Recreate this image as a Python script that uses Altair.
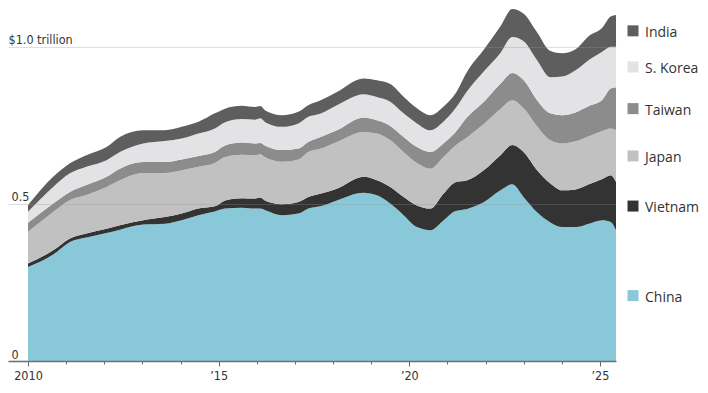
import altair as alt
import pandas as pd

# ---- data (trillions of dollars, decimal years) ----
years = [2010.00, 2010.66, 2011.10, 2011.53, 2012.06, 2012.41, 2013.02, 2013.59,
         2014.03, 2014.47, 2014.90, 2015.17, 2015.61, 2015.96, 2016.09, 2016.22,
         2016.66, 2017.09, 2017.35, 2017.66, 2018.10, 2018.80, 2019.15, 2019.50,
         2019.85, 2020.20, 2020.55, 2020.90, 2021.21, 2021.52, 2021.95, 2022.39,
         2022.70, 2023.00, 2023.35, 2023.70, 2024.01, 2024.36, 2024.71, 2025.06,
         2025.28, 2025.42]
china = [0.299, 0.339, 0.379, 0.393, 0.407, 0.418, 0.434, 0.437,
         0.448, 0.464, 0.476, 0.485, 0.488, 0.485, 0.485, 0.480,
         0.464, 0.469, 0.485, 0.492, 0.511, 0.535, 0.527, 0.501,
         0.464, 0.426, 0.416, 0.448, 0.477, 0.484, 0.505, 0.543,
         0.562, 0.521, 0.473, 0.441, 0.426, 0.426, 0.437, 0.448,
         0.442, 0.416]
vietnam = [0.011, 0.013, 0.011, 0.013, 0.014, 0.014, 0.014, 0.021,
           0.021, 0.021, 0.016, 0.026, 0.030, 0.032, 0.035, 0.030,
           0.035, 0.037, 0.037, 0.040, 0.037, 0.051, 0.048, 0.053,
           0.058, 0.069, 0.069, 0.085, 0.092, 0.091, 0.102, 0.112,
           0.125, 0.143, 0.134, 0.124, 0.117, 0.120, 0.125, 0.131,
           0.149, 0.154]
japan = [0.101, 0.122, 0.122, 0.122, 0.133, 0.143, 0.150, 0.140,
         0.138, 0.133, 0.138, 0.138, 0.138, 0.138, 0.138, 0.138,
         0.135, 0.135, 0.143, 0.143, 0.149, 0.143, 0.149, 0.149,
         0.143, 0.135, 0.127, 0.117, 0.117, 0.137, 0.147, 0.147,
         0.143, 0.140, 0.140, 0.137, 0.149, 0.153, 0.153, 0.153,
         0.149, 0.165]
taiwan = [0.029, 0.027, 0.026, 0.032, 0.032, 0.037, 0.035, 0.035,
          0.034, 0.034, 0.035, 0.037, 0.039, 0.037, 0.036, 0.037,
          0.037, 0.035, 0.032, 0.037, 0.037, 0.046, 0.042, 0.045,
          0.048, 0.051, 0.053, 0.043, 0.042, 0.064, 0.070, 0.080,
          0.086, 0.089, 0.083, 0.086, 0.090, 0.092, 0.096, 0.099,
          0.127, 0.136]
korea = [0.035, 0.053, 0.059, 0.058, 0.053, 0.053, 0.059, 0.067,
         0.067, 0.072, 0.075, 0.074, 0.075, 0.076, 0.078, 0.075,
         0.074, 0.080, 0.080, 0.075, 0.080, 0.074, 0.074, 0.077,
         0.075, 0.075, 0.069, 0.069, 0.076, 0.083, 0.097, 0.098,
         0.115, 0.124, 0.127, 0.115, 0.123, 0.134, 0.147, 0.153,
         0.133, 0.129]
india = [0.021, 0.032, 0.032, 0.037, 0.042, 0.048, 0.042, 0.034,
         0.037, 0.037, 0.048, 0.043, 0.042, 0.040, 0.039, 0.037,
         0.037, 0.037, 0.037, 0.042, 0.042, 0.050, 0.053, 0.056,
         0.053, 0.048, 0.048, 0.048, 0.047, 0.062, 0.069, 0.085,
         0.089, 0.088, 0.089, 0.083, 0.074, 0.067, 0.076, 0.076,
         0.096, 0.101]

countries = ["China", "Vietnam", "Japan", "Taiwan", "S. Korea", "India"]
series = [china, vietnam, japan, taiwan, korea, india]
colors = ["#89c8d8", "#333333", "#c1c1c1", "#8c8c8c", "#e3e3e5", "#5e5e5e"]

y_tick_values = [0, 0.5, 1.0]
y_tick_labels = ["0", "0.5", "$1.0 trillion"]
x_tick_values = list(range(2010, 2026))
x_label_years = [2010, 2015, 2020, 2025]
x_label_text = ["2010", "\u201915", "\u201920", "\u201925"]

# ---- tables ----
rows = []
for i, t in enumerate(years):
    for k, (name, s) in enumerate(zip(countries, series)):
        rows.append({"t": t, "country": name, "v": s[i], "rank": k})
df = pd.DataFrame(rows)

last = pd.DataFrame({"country": countries, "v": [s[-1] for s in series]})
last["mid"] = last["v"].cumsum() - last["v"] / 2


def nested(values, labels, default):
    expr = default
    for v, l in reversed(list(zip(values, labels))):
        expr = f"datum.value === {v} ? '{l}' : {expr}"
    return expr


W, H = 588, 352
AXIS_FONT = "Liberation Sans Narrow, Arial Narrow, DejaVu Sans Condensed, Lato, sans-serif"
x_scale = alt.Scale(domain=[years[0], years[-1]], nice=False, zero=False)
y_scale = alt.Scale(domain=[0, 1.12], nice=False)
color_scale = alt.Scale(domain=countries, range=colors)

x_axis = alt.Axis(
    values=x_tick_values, title=None, domain=False, grid=False,
    labelExpr=nested(x_label_years, x_label_text, "''"),
    labelFont=AXIS_FONT, labelFontSize=12.5, labelColor="#333333",
    labelFlush=False, labelOverlap=False, labelPadding=3,
    tickColor="#666666", tickWidth=1,
    tickSize={"condition": {"test": "datum.value % 5 === 0", "value": 5}, "value": 3},
)
y_axis = alt.Axis(
    values=y_tick_values, title=None, domain=False, grid=True, zindex=1,
    labelExpr=nested(y_tick_values, y_tick_labels, "''"),
    labelFont=AXIS_FONT, labelFontSize=12.5, labelColor="#333333",
    labelAlign="left", labelBaseline="alphabetic", labelOffset=-3,
    labelPadding={"condition": {"test": "datum.value === 1", "value": 0}, "value": -3},
    tickSize=20,
    tickColor={"condition": {"test": "datum.value === 0", "value": "#707070"}, "value": "#dddddd"},
    tickWidth={"condition": {"test": "datum.value === 0", "value": 1.6}, "value": 1},
    gridColor={"condition": {"test": "datum.value === 0", "value": "#707070"},
               "value": "rgba(150,150,150,0.3)"},
    gridWidth={"condition": {"test": "datum.value === 0", "value": 1.6}, "value": 1},
)

area = alt.Chart(df).mark_area(interpolate="monotone").encode(
    x=alt.X("t:Q", scale=x_scale, axis=x_axis),
    y=alt.Y("v:Q", stack="zero", scale=y_scale, axis=y_axis),
    color=alt.Color("country:N", scale=color_scale, legend=None),
    order=alt.Order("rank:Q", sort="ascending"),
)

squares = alt.Chart(last).mark_square(size=121, opacity=1).encode(
    x=alt.value(W + 17),
    y=alt.Y("mid:Q", scale=y_scale, axis=y_axis),
    color=alt.Color("country:N", scale=color_scale, legend=None),
)
labels = alt.Chart(last).mark_text(
    align="left", baseline="middle", font="Open Sans", fontSize=14, color="#333333", dy=2
).encode(
    x=alt.value(W + 29),
    y=alt.Y("mid:Q", scale=y_scale, axis=y_axis),
    text="country:N",
)

chart = alt.layer(area, squares, labels).properties(
    width=W, height=H,
    padding={"left": 20, "top": 1, "right": 84, "bottom": 24},
    autosize=alt.AutoSizeParams(type="none"),
    background="white",
).configure_view(stroke=None)

chart.save("out.html", embed_options={"renderer": "svg", "actions": False})
